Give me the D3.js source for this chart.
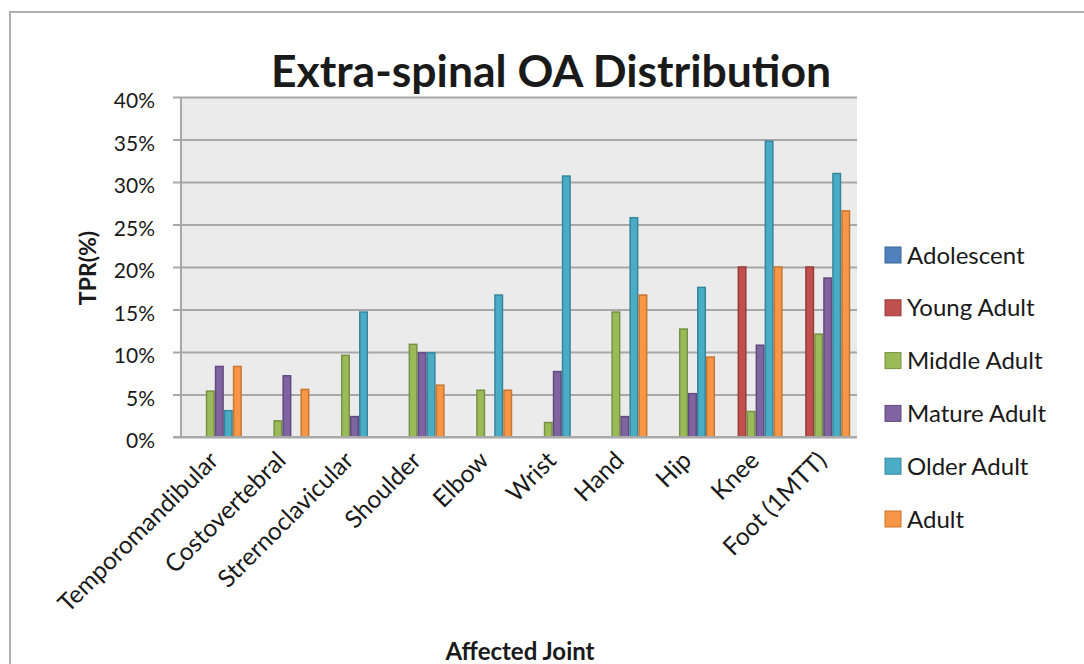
<!DOCTYPE html>
<html>
<head>
<meta charset="utf-8">
<script src="https://cdn.jsdelivr.net/npm/d3@7"></script>
<style>
  html, body { margin: 0; padding: 0; background: #ffffff; }
  svg { display: block; }
  text { font-family: Lato, "Open Sans", sans-serif; fill: #1a1a1a; }
</style>
</head>
<body>
<svg id="chart" width="1084" height="664"></svg>
<script>
// Joint categories along the x axis
const categories = ["Temporomandibular", "Costovertebral", "Strernoclavicular", "Shoulder",
  "Elbow", "Wrist", "Hand", "Hip", "Knee", "Foot (1MTT)"];

// TPR (%) per age group, one value per joint
const adolescent  = [0, 0, 0, 0, 0, 0, 0, 0, 0, 0];
const youngAdult  = [0, 0, 0, 0, 0, 0, 0, 0, 20, 20];
const middleAdult = [5.4, 1.9, 9.6, 10.9, 5.5, 1.7, 14.7, 12.7, 3.0, 12.1];
const matureAdult = [8.3, 7.2, 2.4, 9.9, 0, 7.7, 2.4, 5.1, 10.8, 18.7];
const olderAdult  = [3.1, 0, 14.7, 9.9, 16.7, 30.7, 25.8, 17.6, 34.8, 31.0];
const adult       = [8.3, 5.6, 0, 6.1, 5.5, 0, 16.7, 9.4, 20.0, 26.6];

const seriesNames = ["Adolescent", "Young Adult", "Middle Adult", "Mature Adult", "Older Adult", "Adult"];
const seriesValues = [adolescent, youngAdult, middleAdult, matureAdult, olderAdult, adult];
const seriesFill   = ["#4F81BD", "#C0504D", "#9BBB59", "#8064A2", "#4BACC6", "#F79646"];
const seriesStroke = ["#3A6496", "#9A3B39", "#779244", "#62497F", "#35879E", "#C9762F"];

const yTicks = [0, 5, 10, 15, 20, 25, 30, 35, 40];

const svg = d3.select("#chart");

// outer chart frame
svg.append("rect")
  .attr("x", 10).attr("y", 12).attr("width", 1100).attr("height", 700)
  .attr("fill", "#ffffff").attr("stroke", "#B0B0B0").attr("stroke-width", 2);

const plot = { left: 181, right: 857, top: 97, bottom: 437 };

const x0 = d3.scaleBand().domain(categories)
  .range([plot.left, plot.right]).paddingInner(0).paddingOuter(0);
// 150% gap width between groups
const bandW = x0.bandwidth();
const barW = bandW / (seriesNames.length + 1.5);
const x1 = d3.scaleBand().domain(seriesNames)
  .range([barW * 0.75, barW * 0.75 + barW * seriesNames.length]).padding(0);

const y = d3.scaleLinear().domain([0, 40]).range([plot.bottom, plot.top]);

// plot background
svg.append("rect")
  .attr("x", plot.left).attr("y", plot.top)
  .attr("width", plot.right - plot.left).attr("height", plot.bottom - plot.top)
  .attr("fill", "#EBEBEB");

// gridlines with left tick marks
const yAxis = d3.axisLeft(y).tickValues(yTicks)
  .tickSize(-(plot.right - plot.left))
  .tickFormat(d => d + "%")
  .tickPadding(26);
const gy = svg.append("g").attr("transform", `translate(${plot.left},0)`).call(yAxis);
gy.select(".domain").remove();
gy.selectAll(".tick line")
  .attr("x1", -8)
  .attr("stroke", "#A8A8A8").attr("stroke-width", 2);
gy.selectAll(".tick text")
  .attr("font-size", 21).attr("fill", "#1a1a1a")
  .attr("font-family", "Lato, sans-serif")
  .attr("dy", "0.5em");

// vertical axis line
svg.append("line")
  .attr("x1", plot.left).attr("x2", plot.left)
  .attr("y1", plot.top).attr("y2", plot.bottom)
  .attr("stroke", "#A8A8A8").attr("stroke-width", 2);

// bars
const groups = svg.append("g").selectAll("g")
  .data(categories)
  .join("g")
  .attr("transform", d => `translate(${x0(d)},0)`);

groups.selectAll("rect")
  .data((c, i) => seriesNames.map((s, k) => ({ s, k, v: seriesValues[k][i] })).filter(d => d.v > 0))
  .join("rect")
  .attr("x", d => x1(d.s) + 0.75)
  .attr("width", x1.bandwidth() - 1.5)
  .attr("y", d => y(d.v))
  .attr("height", d => y(0) - y(d.v))
  .attr("fill", d => seriesFill[d.k])
  .attr("stroke", d => seriesStroke[d.k])
  .attr("stroke-width", 1.5);

// category labels, rotated
const gx = svg.append("g").attr("transform", `translate(0,${plot.bottom})`)
  .call(d3.axisBottom(x0).tickSize(0).tickPadding(0));
gx.select(".domain").remove();
gx.selectAll(".tick text")
  .attr("font-size", 24.5).attr("fill", "#1a1a1a")
  .attr("font-family", "Lato, sans-serif")
  .attr("text-anchor", "end")
  .attr("dy", null).attr("y", null)
  .attr("transform", "translate(5,25) rotate(-45)");

// baseline along the bottom of the plot
svg.append("line")
  .attr("x1", plot.left - 8).attr("x2", plot.right)
  .attr("y1", plot.bottom).attr("y2", plot.bottom)
  .attr("stroke", "#A8A8A8").attr("stroke-width", 2);

// title
svg.append("text")
  .attr("x", 551).attr("y", 87)
  .attr("text-anchor", "middle")
  .attr("font-size", 44.5).attr("font-weight", "bold")
  .text("Extra-spinal OA Distribution");

// axis titles
svg.append("text")
  .attr("transform", "translate(96,268) rotate(-90)")
  .attr("text-anchor", "middle")
  .attr("font-size", 23).attr("font-weight", "bold")
  .text("TPR(%)");

svg.append("text")
  .attr("x", 520).attr("y", 660)
  .attr("text-anchor", "middle")
  .attr("font-size", 24).attr("font-weight", "bold")
  .text("Affected Joint");

// legend
const legend = svg.append("g").selectAll("g")
  .data(seriesNames)
  .join("g")
  .attr("transform", (d, i) => `translate(885,${255 + i * 52.8})`);
legend.append("rect")
  .attr("x", 0).attr("y", -8).attr("width", 16).attr("height", 16)
  .attr("fill", (d, i) => seriesFill[i])
  .attr("stroke", (d, i) => seriesStroke[i]).attr("stroke-width", 1);
legend.append("text")
  .attr("x", 22).attr("y", 0).attr("dy", "0.36em")
  .attr("font-size", 24)
  .text(d => d);
</script>
</body>
</html>
